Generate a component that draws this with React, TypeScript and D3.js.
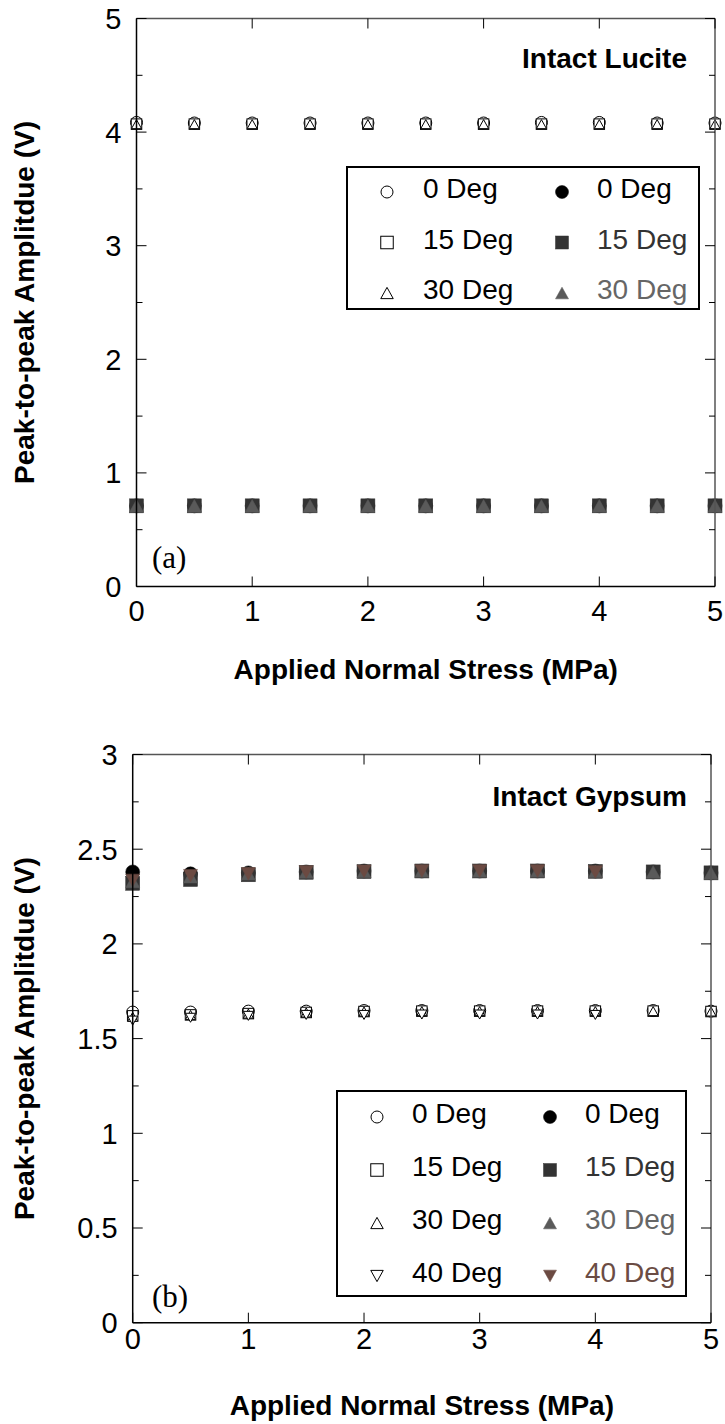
import React from "react";
import * as d3 from "d3";

// ---------- data ----------
const STRESS = [0, 0.5, 1, 1.5, 2, 2.5, 3, 3.5, 4, 4.5, 5];
const STRESS40 = [0, 0.5, 1, 1.5, 2, 2.5, 3, 3.5, 4];

// (a) Intact Lucite
const lucOpen0 = [4.085, 4.08, 4.08, 4.08, 4.08, 4.08, 4.08, 4.085, 4.085, 4.08, 4.08];
const lucOpen15 = [4.07, 4.07, 4.07, 4.07, 4.07, 4.07, 4.07, 4.07, 4.07, 4.07, 4.07];
const lucOpen30 = [4.07, 4.07, 4.07, 4.07, 4.07, 4.07, 4.07, 4.07, 4.07, 4.07, 4.07];
const lucFill0 = [0.71, 0.71, 0.71, 0.71, 0.71, 0.71, 0.71, 0.71, 0.71, 0.71, 0.71];
const lucFill15 = [0.71, 0.71, 0.71, 0.71, 0.71, 0.71, 0.71, 0.71, 0.71, 0.71, 0.71];
const lucFill30 = [0.71, 0.71, 0.71, 0.71, 0.71, 0.71, 0.71, 0.71, 0.71, 0.71, 0.71];

// (b) Intact Gypsum
const gypOpen0 = [1.64, 1.64, 1.645, 1.645, 1.648, 1.648, 1.648, 1.648, 1.648, 1.648, 1.645];
const gypOpen15 = [1.62, 1.625, 1.632, 1.638, 1.643, 1.645, 1.645, 1.645, 1.645, 1.645, 1.643];
const gypOpen30 = [1.615, 1.625, 1.632, 1.638, 1.643, 1.645, 1.645, 1.645, 1.645, 1.645, 1.643];
const gypOpen40 = [1.595, 1.61, 1.62, 1.625, 1.625, 1.627, 1.627, 1.627, 1.625];
const gypFill0 = [2.38, 2.37, 2.375, 2.38, 2.385, 2.385, 2.385, 2.385, 2.385, 2.38, 2.375];
const gypFill15 = [2.32, 2.34, 2.365, 2.378, 2.382, 2.385, 2.385, 2.385, 2.383, 2.38, 2.375];
const gypFill30 = [2.33, 2.355, 2.37, 2.38, 2.383, 2.385, 2.385, 2.385, 2.383, 2.38, 2.375];
const gypFill40 = [2.335, 2.36, 2.37, 2.38, 2.383, 2.385, 2.385, 2.385, 2.38];

const X_TICKS = [0, 1, 2, 3, 4, 5];
const LUC_Y_TICKS = [0, 1, 2, 3, 4, 5];
const LUC_Y_MINOR = [0.5, 1.5, 2.5, 3.5, 4.5];
const GYP_Y_TICKS = [0, 0.5, 1, 1.5, 2, 2.5, 3];
const GYP_Y_MINOR = [0.25, 0.75, 1.25, 1.75, 2.25, 2.75];

const LEGEND_LABELS = ["0 Deg", "15 Deg", "30 Deg", "40 Deg"];
const FILL_COLORS = ["#000000", "#333333", "#5a5a5a", "#6b4a42"];
const FILL_TEXT_COLORS = ["#000000", "#333333", "#666666", "#6b4c44"];
const SHAPES = ["circle", "square", "up", "down"];

const FONT = "'Liberation Sans', Arial, Helvetica, sans-serif";
const SERIF = "'Liberation Serif', 'Times New Roman', serif";

type Series = { x: number[]; y: number[]; shape: string; filled: boolean; color: string };

function Marker({ shape, cx, cy, size, filled, color }: any) {
  const fill = filled ? color : "white";
  const stroke = filled ? color : "#000";
  const sw = filled ? 0.5 : 1;
  if (shape === "circle") {
    return <circle cx={cx} cy={cy} r={size / 2} fill={fill} stroke={stroke} strokeWidth={sw} />;
  }
  if (shape === "square") {
    return <rect x={cx - size / 2} y={cy - size / 2} width={size} height={size} fill={fill} stroke={stroke} strokeWidth={sw} />;
  }
  const w = size;
  const h = size * 0.9;
  const d =
    shape === "up"
      ? `M${cx},${cy - h / 2}L${cx + w / 2},${cy + h / 2}L${cx - w / 2},${cy + h / 2}Z`
      : `M${cx},${cy + h / 2}L${cx + w / 2},${cy - h / 2}L${cx - w / 2},${cy - h / 2}Z`;
  return <path d={d} fill={fill} stroke={stroke} strokeWidth={sw} />;
}

function Panel(props: any) {
  const { left, right, top, bottom, yMax, yTicks, yMinor, series, title, titleBaseline, tag, tagBaseline,
    xLabelBaseline, xTitleBaseline, legend } = props;
  const x = d3.scaleLinear().domain([0, 5]).range([left, right]);
  const y = d3.scaleLinear().domain([0, yMax]).range([bottom, top]);
  const major = 10;
  const minor = 6;
  const fmt = (v: number) => String(v);
  const cy = (top + bottom) / 2;
  const cx = (left + right) / 2;
  return (
    <g>
      {/* series */}
      {series.map((s: Series, i: number) => (
        <g key={i}>
          {s.x.map((xv, j) => (
            <Marker key={j} shape={s.shape} cx={x(xv)} cy={y(s.y[j])}
              size={s.filled ? 14 : s.shape === "circle" ? 12 : s.shape === "square" ? 10.5 : 10}
              filled={s.filled} color={s.color} />
          ))}
        </g>
      ))}
      {/* frame */}
      <line x1={left} x2={right} y1={top} y2={top} stroke="#555" strokeWidth={1.5} />
      <line x1={right} x2={right} y1={top} y2={bottom} stroke="#555" strokeWidth={1.5} />
      <line x1={left} x2={left} y1={top} y2={bottom} stroke="#000" strokeWidth={1.5} />
      <line x1={left} x2={right} y1={bottom} y2={bottom} stroke="#000" strokeWidth={1.5} />
      {/* x ticks */}
      {X_TICKS.map((t) => (
        <g key={"xt" + t}>
          <line x1={x(t)} x2={x(t)} y1={bottom} y2={bottom - major} stroke="#000" strokeWidth={1} />
          <line x1={x(t)} x2={x(t)} y1={top} y2={top + major} stroke="#000" strokeWidth={1} />
          <text x={x(t)} y={xLabelBaseline} textAnchor="middle" fontFamily={FONT} fontSize={29} fill="#000">{fmt(t)}</text>
        </g>
      ))}
      {/* y ticks */}
      {yTicks.map((t: number) => (
        <g key={"yt" + t}>
          <line x1={left} x2={left + major} y1={y(t)} y2={y(t)} stroke="#000" strokeWidth={1} />
          <line x1={right} x2={right - major} y1={y(t)} y2={y(t)} stroke="#000" strokeWidth={1} />
          <text x={left - 15} y={y(t)} dy="0.36em" textAnchor="end" fontFamily={FONT} fontSize={29} fill="#000">{fmt(t)}</text>
        </g>
      ))}
      {yMinor.map((t: number) => (
        <g key={"ym" + t}>
          <line x1={left} x2={left + minor} y1={y(t)} y2={y(t)} stroke="#000" strokeWidth={1} />
          <line x1={right} x2={right - minor} y1={y(t)} y2={y(t)} stroke="#000" strokeWidth={1} />
        </g>
      ))}
      {/* axis titles */}
      <text x={cx} y={xTitleBaseline} textAnchor="middle" fontFamily={FONT} fontWeight="bold" fontSize={28} fill="#000">
        Applied Normal Stress (MPa)
      </text>
      <text transform={`translate(34,${cy}) rotate(-90)`} textAnchor="middle" fontFamily={FONT} fontWeight="bold" fontSize={28} fill="#000">
        Peak-to-peak Amplitdue (V)
      </text>
      <text x={687} y={titleBaseline} textAnchor="end" fontFamily={FONT} fontWeight="bold" fontSize={28} fill="#000">{title}</text>
      <text x={152} y={tagBaseline} fontFamily={SERIF} fontSize={31} fill="#000">{tag}</text>
      {/* legend */}
      <g>
        <rect x={legend.x0} y={legend.y0} width={legend.x1 - legend.x0} height={legend.y1 - legend.y0} fill="white" stroke="#000" strokeWidth={2} />
        {legend.rows.map((r: number, i: number) => {
          const base = legend.firstBaseline + i * legend.step;
          return (
            <g key={"lg" + i}>
              <Marker shape={SHAPES[i]} cx={legend.openX} cy={base - 6} size={SHAPES[i] === "circle" ? 12 : 12.5} filled={false} color="#000" />
              <text x={legend.openText} y={base} fontFamily={FONT} fontSize={28} fill="#000">{LEGEND_LABELS[r]}</text>
              <Marker shape={SHAPES[i]} cx={legend.fillX} cy={base - 6} size={13} filled={true} color={FILL_COLORS[i]} />
              <text x={legend.fillText} y={base} fontFamily={FONT} fontSize={28} fill={FILL_TEXT_COLORS[i]}>{LEGEND_LABELS[r]}</text>
            </g>
          );
        })}
      </g>
    </g>
  );
}

export default function App() {
  const lucSeries: Series[] = [
    { x: STRESS, y: lucOpen0, shape: "circle", filled: false, color: "#000" },
    { x: STRESS, y: lucOpen15, shape: "square", filled: false, color: "#000" },
    { x: STRESS, y: lucOpen30, shape: "up", filled: false, color: "#000" },
    { x: STRESS, y: lucFill0, shape: "circle", filled: true, color: FILL_COLORS[0] },
    { x: STRESS, y: lucFill15, shape: "square", filled: true, color: FILL_COLORS[1] },
    { x: STRESS, y: lucFill30, shape: "up", filled: true, color: FILL_COLORS[2] },
  ];
  const gypSeries: Series[] = [
    { x: STRESS, y: gypOpen0, shape: "circle", filled: false, color: "#000" },
    { x: STRESS, y: gypOpen15, shape: "square", filled: false, color: "#000" },
    { x: STRESS, y: gypOpen30, shape: "up", filled: false, color: "#000" },
    { x: STRESS40, y: gypOpen40, shape: "down", filled: false, color: "#000" },
    { x: STRESS, y: gypFill0, shape: "circle", filled: true, color: FILL_COLORS[0] },
    { x: STRESS, y: gypFill15, shape: "square", filled: true, color: FILL_COLORS[1] },
    { x: STRESS, y: gypFill30, shape: "up", filled: true, color: FILL_COLORS[2] },
    { x: STRESS40, y: gypFill40, shape: "down", filled: true, color: FILL_COLORS[3] },
  ];
  return (
    <svg width={725} height={1424} style={{ position: "absolute", left: 0, top: 0, background: "white" }}>
      <rect x={0} y={0} width={725} height={1424} fill="white" />
      <Panel left={136.5} right={715} top={18.5} bottom={586.5} yMax={5}
        yTicks={LUC_Y_TICKS} yMinor={LUC_Y_MINOR} series={lucSeries}
        title="Intact Lucite" titleBaseline={68} tag="(a)" tagBaseline={568}
        xLabelBaseline={621} xTitleBaseline={679}
        legend={{ x0: 347, x1: 699, y0: 167, y1: 309, rows: [0, 1, 2], firstBaseline: 198, step: 50.5,
          openX: 387, openText: 423, fillX: 562, fillText: 597 }} />
      <Panel left={132.7} right={711} top={754.5} bottom={1322.7} yMax={3}
        yTicks={GYP_Y_TICKS} yMinor={GYP_Y_MINOR} series={gypSeries}
        title="Intact Gypsum" titleBaseline={806} tag="(b)" tagBaseline={1307}
        xLabelBaseline={1349} xTitleBaseline={1415}
        legend={{ x0: 337, x1: 686, y0: 1091, y1: 1296, rows: [0, 1, 2, 3], firstBaseline: 1123, step: 53,
          openX: 377, openText: 412, fillX: 550, fillText: 585 }} />
    </svg>
  );
}
